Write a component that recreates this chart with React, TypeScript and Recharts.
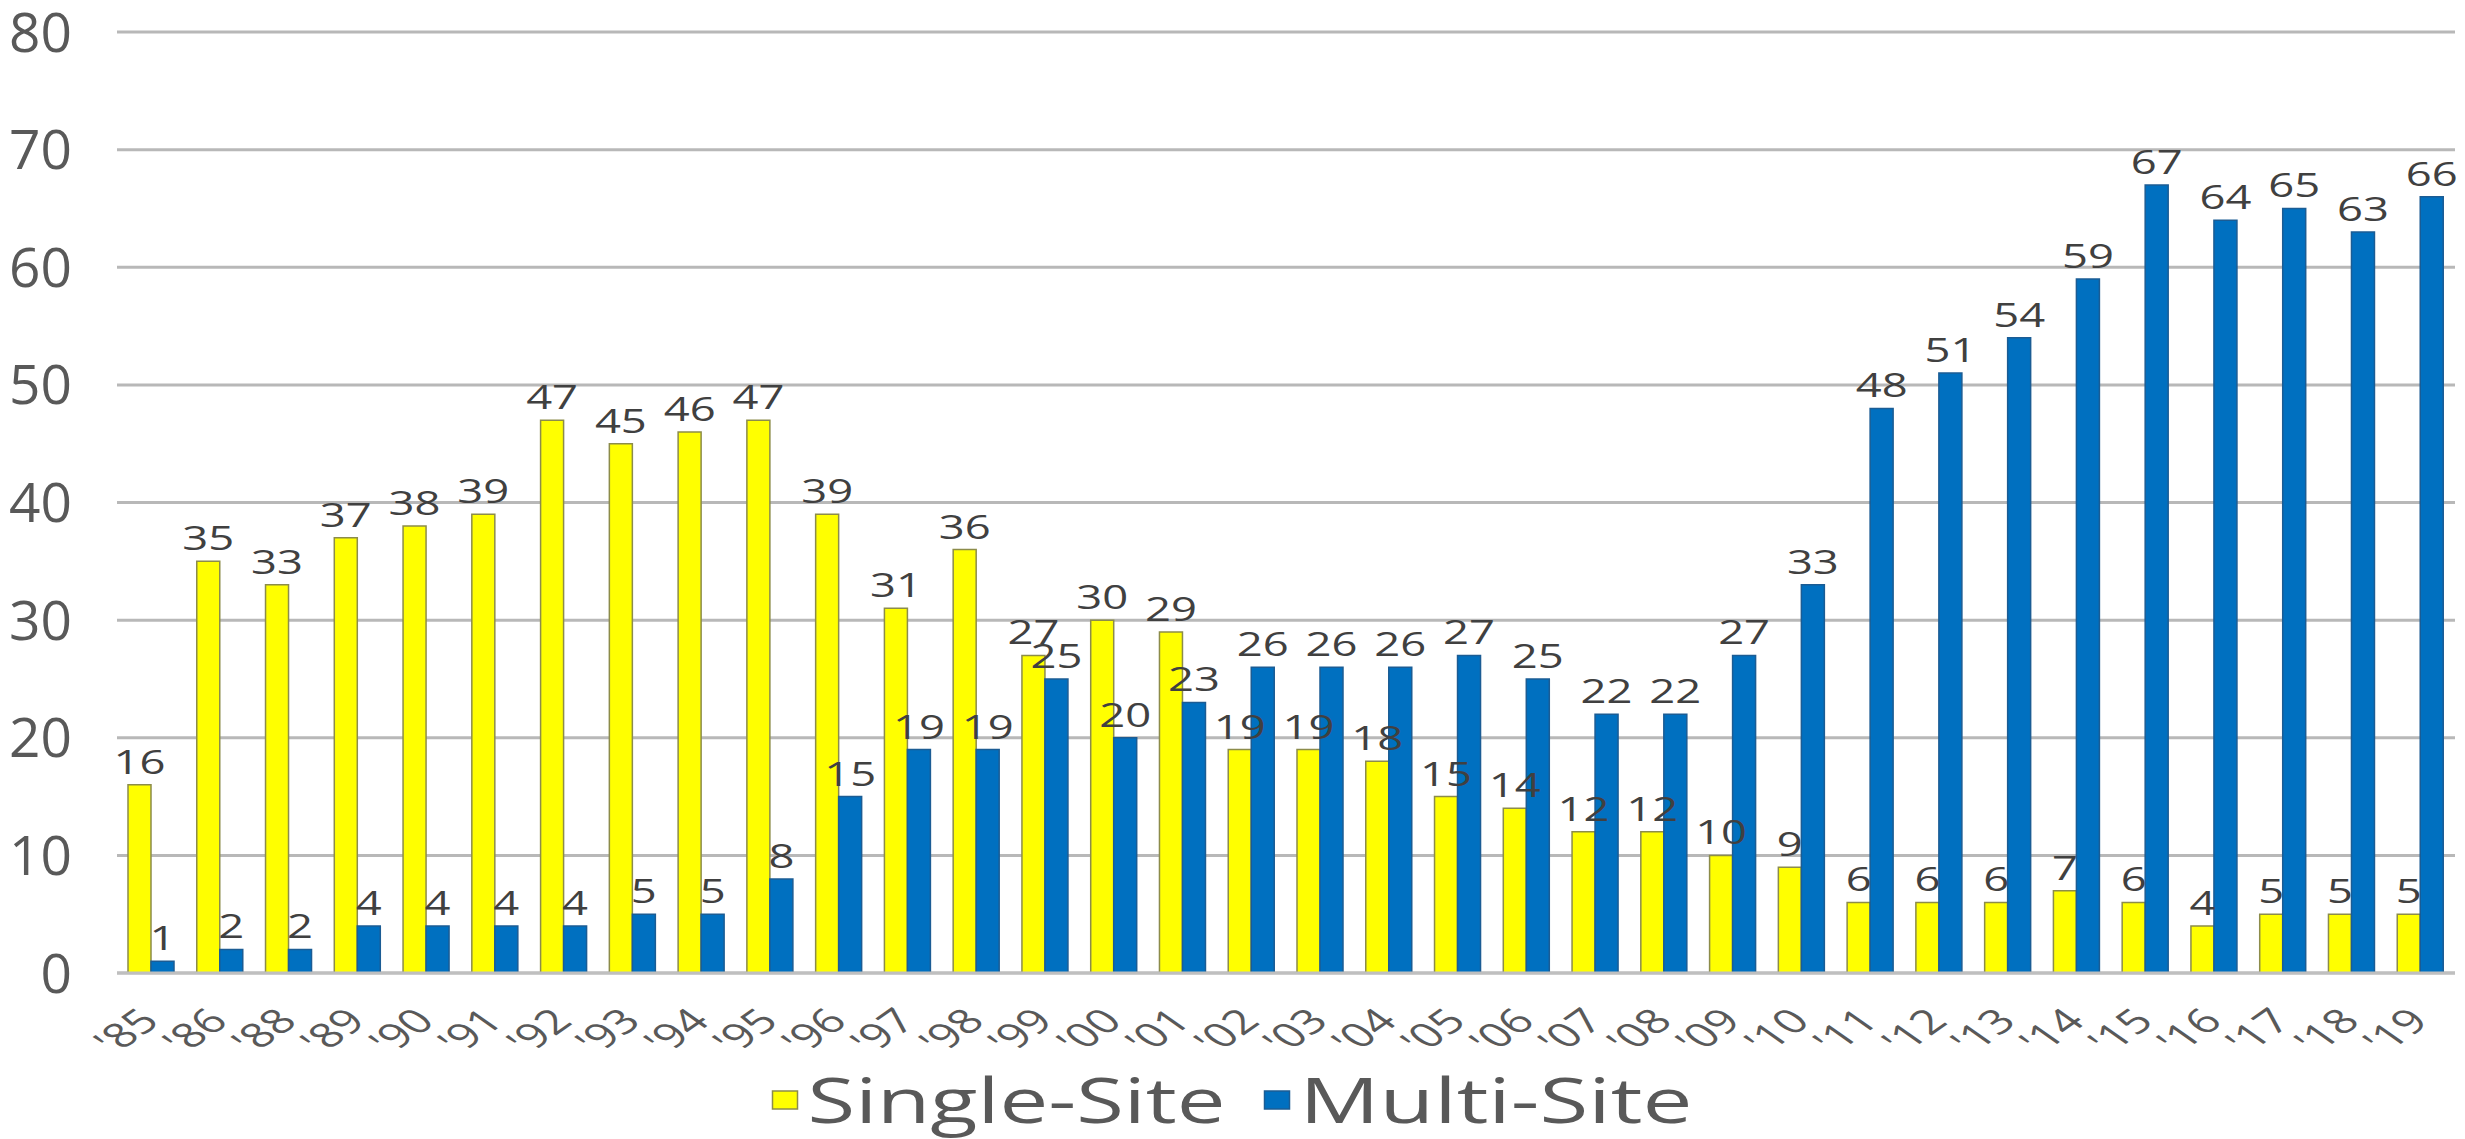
import React from 'react';
import {
  BarChart,
  Bar,
  XAxis,
  YAxis,
  CartesianGrid,
  Legend,
  LabelList
} from 'recharts';

const YEARS = [
  "'85", "'86", "'88", "'89", "'90", "'91", "'92", "'93", "'94", "'95",
  "'96", "'97", "'98", "'99", "'00", "'01", "'02", "'03", "'04", "'05",
  "'06", "'07", "'08", "'09", "'10", "'11", "'12", "'13", "'14", "'15",
  "'16", "'17", "'18", "'19"
];
const SINGLE_SITE = [
  16, 35, 33, 37, 38, 39, 47, 45, 46, 47,
  39, 31, 36, 27, 30, 29, 19, 19, 18, 15,
  14, 12, 12, 10, 9, 6, 6, 6, 7, 6,
  4, 5, 5, 5
];
const MULTI_SITE = [
  1, 2, 2, 4, 4, 4, 4, 5, 5, 8,
  15, 19, 19, 25, 20, 23, 26, 26, 26, 27,
  25, 22, 22, 27, 33, 48, 51, 54, 59, 67,
  64, 65, 63, 66
];
const Y_TICKS = [0, 10, 20, 30, 40, 50, 60, 70, 80];
const SERIES_NAMES = ['Single-Site', 'Multi-Site'];

const FONT = "'Open Sans', sans-serif";
const W = 2465;
const H = 1139;
const STRETCH = 1.42; // source picture text is widened horizontally

const COLORS = {
  single: '#FFFF00',
  singleEdge: '#8C8C4A',
  multi: '#0070C0',
  multiEdge: '#1B5C94',
  grid: '#B8B8B8',
  tick: '#595959',
  label: '#404040'
};

const data = YEARS.map((year, i) => ({
  year,
  single: SINGLE_SITE[i],
  multi: MULTI_SITE[i]
}));

const ValueLabel = (props: any) => {
  const { x, y, width, value } = props;
  const cx = Number(x) + Number(width) / 2;
  const by = Number(y) - 11;
  return (
    <text
      transform={`translate(${cx},${by}) scale(${STRETCH},1)`}
      textAnchor="middle"
      fontSize={32}
      fontFamily={FONT}
      fill={COLORS.label}
    >
      {value}
    </text>
  );
};

const YearTick = ({ x, y, payload }: any) => (
  <text
    transform={`translate(${x + 10},${y + 50}) scale(${STRETCH},1) rotate(-45)`}
    textAnchor="end"
    fontSize={34}
    fontFamily={FONT}
    fill={COLORS.tick}
  >
    {payload.value}
  </text>
);

// legend drawn as svg so the widened text and small swatches can be matched
const LEGEND_TEXT_WIDTHS = [418, 393];
const renderLegend = () => {
  const swatchW = 25;
  const swatchH = 18;
  const pad = 10;
  const itemGap = 39;
  const total =
    LEGEND_TEXT_WIDTHS.reduce((a, b) => a + b, 0) +
    SERIES_NAMES.length * (swatchW + pad) +
    itemGap * (SERIES_NAMES.length - 1);
  let cur = (W - total) / 2;
  const fills = [COLORS.single, COLORS.multi];
  const edges = [COLORS.singleEdge, COLORS.multiEdge];
  return (
    <div style={{ height: 66 }}>
      <svg width={W} height={66} style={{ display: 'block' }}>
        {SERIES_NAMES.map((name, i) => {
          const sx = cur;
          const tx = sx + swatchW + pad;
          cur = tx + LEGEND_TEXT_WIDTHS[i] + itemGap;
          return (
            <g key={name}>
              <rect x={sx} y={18} width={swatchW} height={swatchH} fill={fills[i]} stroke={edges[i]} strokeWidth={1.5} />
              <text
                x={tx}
                y={50}
                fontSize={62}
                fontFamily={FONT}
                fill={COLORS.tick}
                textLength={LEGEND_TEXT_WIDTHS[i]}
                lengthAdjust="spacingAndGlyphs"
              >
                {name}
              </text>
            </g>
          );
        })}
      </svg>
    </div>
  );
};

export default function App() {
  return (
    <div style={{ position: 'absolute', left: 0, top: 0, width: W, height: H, background: '#fff' }}>
      <BarChart
        width={W}
        height={H}
        data={data}
        margin={{ top: 32, right: 10, left: 0, bottom: 0 }}
        barGap={0}
      >
        <CartesianGrid vertical={false} stroke={COLORS.grid} strokeWidth={3} />
        <XAxis
          dataKey="year"
          interval={0}
          height={100}
          tickSize={0}
          tickMargin={0}
          tickLine={false}
          axisLine={{ stroke: '#BFBFBF', strokeWidth: 3 }}
          tick={<YearTick />}
        />
        <YAxis
          domain={[0, 80]}
          ticks={Y_TICKS}
          width={117}
          tickSize={0}
          tickMargin={45}
          axisLine={false}
          tickLine={false}
          tick={{ fontSize: 55, fill: COLORS.tick, fontFamily: FONT }}
        />
        <Legend verticalAlign="bottom" content={renderLegend} wrapperStyle={{ left: 0, width: W }} />
        <Bar
          dataKey="single"
          name={SERIES_NAMES[0]}
          fill={COLORS.single}
          stroke={COLORS.singleEdge}
          strokeWidth={1.5}
          barSize={23}
          isAnimationActive={false}
        >
          <LabelList dataKey="single" content={ValueLabel} />
        </Bar>
        <Bar
          dataKey="multi"
          name={SERIES_NAMES[1]}
          fill={COLORS.multi}
          stroke={COLORS.multiEdge}
          strokeWidth={1.5}
          barSize={23}
          isAnimationActive={false}
        >
          <LabelList dataKey="multi" content={ValueLabel} />
        </Bar>
      </BarChart>
    </div>
  );
}
